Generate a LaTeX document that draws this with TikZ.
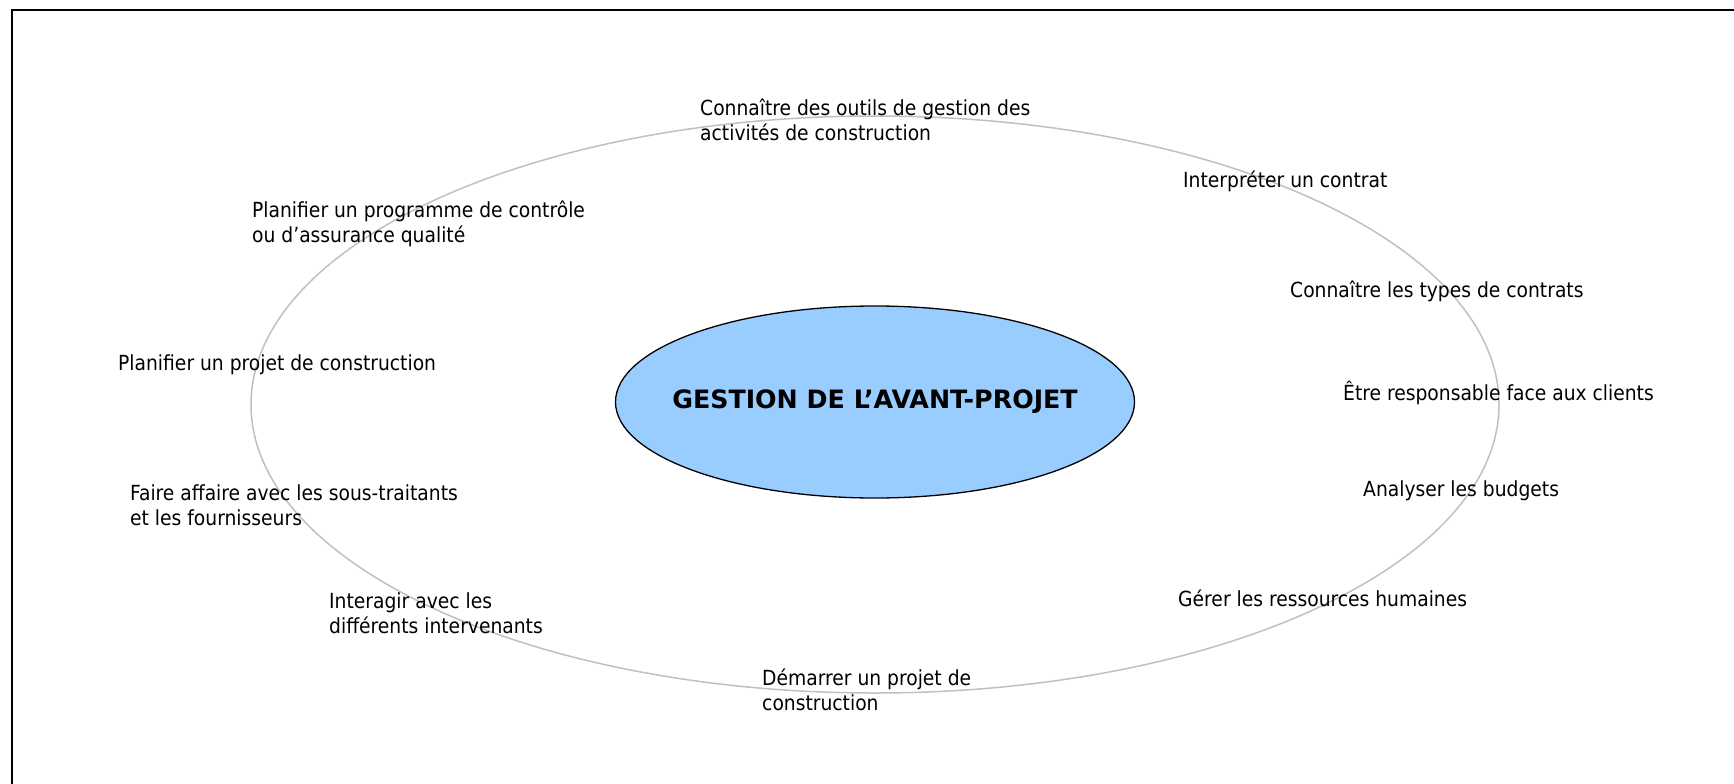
\documentclass[tikz,border=0pt]{standalone}
\usepackage{fontspec}
\setmainfont{DejaVu Sans Condensed}
\newfontfamily\titlefont{DejaVu Sans}
\usetikzlibrary{shapes.geometric}
\definecolor{coreblue}{HTML}{99CCFF}
\definecolor{ringgray}{HTML}{C0C0C0}
\begin{document}
\begin{tikzpicture}[x=1pt,y=-1pt,
  lbl/.style={anchor=base west, inner sep=0pt, align=left, font=\fontsize{20.8}{25.4}\selectfont},
  core/.style={ellipse, draw=black, line width=1.3pt, fill=coreblue, inner sep=0pt, minimum width=519pt, minimum height=192pt, font=\titlefont\fontsize{25.3}{30}\selectfont\bfseries}]
\useasboundingbox (0,0) rectangle (1734,784);
\draw[line width=2pt] (11.5,784) -- (11.5,10) -- (1734,10);
\draw[ringgray, line width=1.5pt] (875,404.5) ellipse [x radius=624, y radius=288.5];
\node[core] (core) at (875,402) {\makebox[0pt]{GESTION DE L’AVANT-PROJET}};
\node[lbl] (outils) at (700,140.4) {Connaître des outils de gestion des\\activités de construction};
\node[lbl] (contrat) at (1183,187) {Interpréter un contrat};
\node[lbl] (types) at (1290,297) {Connaître les types de contrats};
\node[lbl] (clients) at (1343,400) {Être responsable face aux clients};
\node[lbl] (budgets) at (1363,496) {Analyser les budgets};
\node[lbl] (rh) at (1178,606) {Gérer les ressources humaines};
\node[lbl] (demarrer) at (762,710.4) {Démarrer un projet de\\construction};
\node[lbl] (interagir) at (329,633.4) {Interagir avec les\\différents intervenants};
\node[lbl] (affaire) at (130,525.4) {Faire affaire avec les sous-traitants\\et les fournisseurs};
\node[lbl] (projet) at (118,370) {Planifier un projet de construction};
\node[lbl] (qualite) at (252,242.4) {Planifier un programme de contrôle\\ou d’assurance qualité};
\end{tikzpicture}
\end{document}
